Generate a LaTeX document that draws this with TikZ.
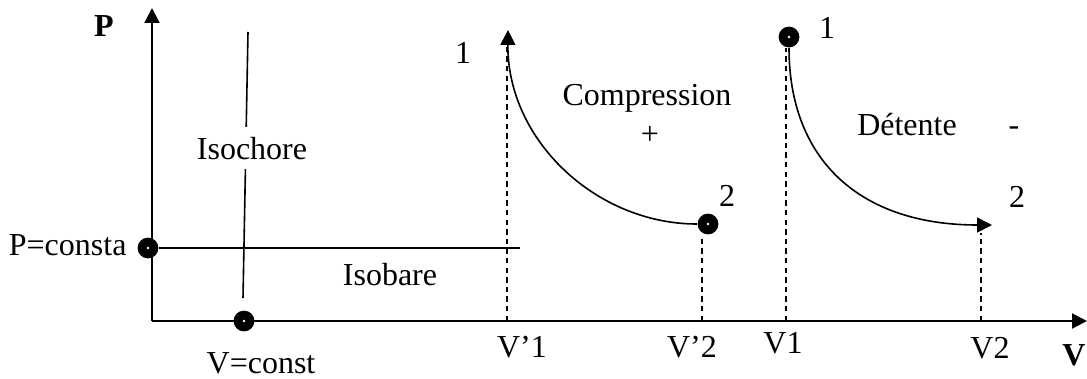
\documentclass[tikz,border=0pt]{standalone}
\usepackage{fontspec}
\setmainfont{Liberation Serif}
\usetikzlibrary{arrows.meta}

\begin{document}
\begin{tikzpicture}[x=0.375pt,y=-0.375pt,
    axe/.style={line width=0.8pt,-{Triangle[length=5.6pt,width=5.6pt]}},
    etat/.style={circle,fill=black,inner sep=0pt,minimum size=7.8pt},
    trait/.style={line width=0.6pt},
    fleche/.style={trait,-{Triangle[length=5.6pt,width=5.6pt]}},
    pointille/.style={line width=0.6pt,dash pattern=on 2pt off 1.6pt},
    txt/.style={anchor=base,inner sep=0pt,font=\fontsize{12}{14}\selectfont}]
\useasboundingbox (0,0) rectangle (1087,378);

% axes
\coordinate (O) at (152,321);
\coordinate (Ptop) at (152,8);
\coordinate (Vend) at (1087,321);
\draw[axe] (O) -- (Ptop);
\draw[axe] (O) -- (Vend);
\node[txt] (lP) at (104,37) {\textbf{P}};
\node[txt] (lV) at (1074,365) {\textbf{V}};

% isobare et isochore
\node[etat] (pc) at (148,248) {};
\node[etat] (vc) at (244,321) {};
\coordinate (isoend) at (520,248);
\draw[trait] (pc) -- (isoend);
\coordinate (ic1) at (248,32);
\coordinate (ic2) at (243,298);
\draw[trait] (ic1) -- (ic2);
\node[txt,fill=white,inner ysep=3.75pt] (lisoc) at (252,159) {Isochore};
\node[txt] (lisob) at (390,285) {Isobare};
\node[txt,anchor=base east] (lpc) at (127,255) {P=consta};
\node[txt] (lvc) at (261,373) {V=const};

% compression
\coordinate (c1) at (508,30);
\coordinate (c1b) at (507,44);
\node[etat] (c2) at (708,224) {};
\coordinate (vp1) at (507,321);
\coordinate (vp2) at (702,321);
\draw[pointille] (vp1) -- (c1b);
\draw[pointille] (vp2) -- (c2.south -| vp2);
\draw[fleche] (c2) .. controls (596,224) and (507,140) .. (c1);
\node[txt] (lc1) at (463,63) {1};
\node[txt] (lc2) at (727,206) {2};
\node[txt] (lcomp) at (647,105) {Compression};
\node[txt] (lplus) at (650,144) {+};
\node[txt] (lvp1) at (522,357) {V’1};
\node[txt] (lvp2) at (692,357) {V’2};

% detente
\node[etat] (d1) at (789,37) {};
\coordinate (d2) at (992,225);
\coordinate (v1) at (786,321);
\coordinate (v2) at (981,321);
\coordinate (v2top) at (981,233);
\draw[pointille] (v1) -- (d1.south -| v1);
\draw[pointille] (v2) -- (v2top);
\draw[fleche] (d1) .. controls (789,160) and (860,225) .. (d2);
\node[txt] (ld1) at (827,38) {1};
\node[txt] (ld2) at (1017,207) {2};
\node[txt] (ldet) at (907,135) {Détente};
\node[txt] (lmoins) at (1014,135) {-};
\node[txt] (lv1) at (783,353) {V1};
\node[txt] (lv2) at (990,358) {V2};

\foreach \d in {pc,vc,c2,d1}
  \fill[white] (\d) circle (0.5pt);
\end{tikzpicture}
\end{document}
